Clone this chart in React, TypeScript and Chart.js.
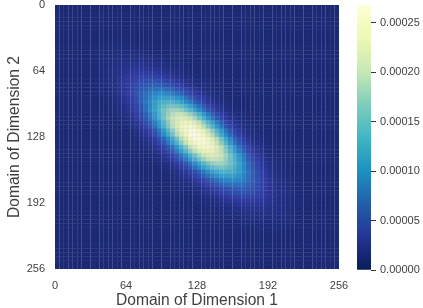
import React, { useEffect, useRef } from "react";
import { Chart, registerables } from "chart.js";

Chart.register(...registerables);

const FONT = "'Liberation Sans', Arial, sans-serif";
const TEXT = "#3f3f3f";

const axisTicks = [0, 64, 128, 192, 256];
const xTitle = "Domain of Dimension 1";
const yTitle = "Domain of Dimension 2";
const colorTicks = [0, 0.00005, 0.0001, 0.00015, 0.0002, 0.00025];
const colorMax = 0.000268;
const gridCells = 64;
const domainMax = 256;
const valueUnit = 1e-6;
const paletteLowToHigh = ["#081d58", "#253494", "#225ea8", "#1d91c0", "#41b6c4", "#7fcdbb", "#c7e9b4", "#edf8b1", "#ffffd9"];
const seamTint = [125, 110, 255];

const firstRow = 9;
const rowStarts = [11, 10, 9, 9, 8, 8, 8, 8, 8, 9, 9, 10, 10, 11, 11, 12, 12, 13, 13, 14, 14, 15, 16, 17, 17, 18, 19, 20, 21, 22, 23, 24, 25, 26, 27, 28, 29, 30, 31, 33, 34, 36, 38, 40, 42, 45];
const rowValues = [
  [2, 3, 3, 3, 3, 3, 3, 2],
  [2, 3, 3, 4, 4, 4, 4, 4, 4, 3, 3, 2],
  [2, 3, 4, 4, 5, 6, 6, 6, 6, 6, 5, 4, 4, 3, 2],
  [2, 3, 4, 5, 6, 7, 8, 9, 9, 9, 8, 7, 6, 5, 4, 3, 2],
  [2, 3, 4, 6, 7, 9, 10, 11, 12, 13, 13, 12, 11, 10, 9, 7, 6, 4, 3, 2],
  [2, 3, 4, 5, 7, 9, 11, 13, 15, 16, 17, 17, 16, 15, 13, 11, 9, 7, 5, 4, 3, 2],
  [2, 3, 5, 7, 9, 12, 14, 17, 20, 22, 24, 24, 24, 22, 20, 17, 14, 12, 9, 7, 5, 3, 2],
  [2, 3, 4, 6, 8, 11, 15, 19, 22, 26, 29, 30, 31, 30, 29, 26, 22, 19, 15, 11, 8, 6, 4, 3, 2],
  [2, 3, 4, 7, 9, 13, 17, 22, 27, 32, 36, 39, 41, 41, 39, 36, 32, 27, 22, 17, 13, 9, 7, 4, 3, 2],
  [2, 4, 6, 8, 12, 17, 22, 29, 35, 41, 47, 51, 53, 53, 51, 47, 41, 35, 29, 22, 17, 12, 8, 6, 4, 2],
  [2, 4, 6, 9, 13, 18, 24, 32, 40, 48, 55, 61, 65, 66, 65, 61, 55, 48, 40, 32, 24, 18, 13, 9, 6, 4, 2],
  [3, 4, 7, 11, 16, 22, 30, 39, 49, 59, 68, 76, 80, 82, 80, 76, 68, 59, 49, 39, 30, 22, 16, 11, 7, 4, 3],
  [2, 4, 7, 11, 16, 23, 32, 42, 54, 66, 78, 88, 96, 100, 100, 96, 88, 78, 66, 54, 42, 32, 23, 16, 11, 7, 4, 2],
  [3, 5, 8, 13, 19, 28, 38, 51, 65, 79, 94, 106, 115, 119, 119, 115, 106, 94, 79, 65, 51, 38, 28, 19, 13, 8, 5, 3],
  [3, 5, 8, 12, 18, 27, 38, 52, 68, 85, 102, 117, 130, 138, 141, 138, 130, 117, 102, 85, 68, 52, 38, 27, 18, 12, 8, 5, 3],
  [3, 5, 9, 14, 21, 31, 44, 60, 78, 97, 117, 135, 149, 159, 162, 159, 149, 135, 117, 97, 78, 60, 44, 31, 21, 14, 9, 5, 3],
  [3, 5, 8, 13, 20, 29, 42, 59, 78, 100, 122, 144, 162, 176, 183, 183, 176, 162, 144, 122, 100, 78, 59, 42, 29, 20, 13, 8, 5, 3],
  [3, 5, 9, 14, 22, 33, 47, 65, 87, 111, 136, 160, 181, 196, 204, 204, 196, 181, 160, 136, 111, 87, 65, 47, 33, 22, 14, 9, 5, 3],
  [2, 4, 7, 12, 19, 29, 43, 61, 83, 108, 135, 162, 187, 207, 220, 224, 220, 207, 187, 162, 135, 108, 83, 61, 43, 29, 19, 12, 7, 4, 2],
  [2, 4, 8, 13, 20, 31, 46, 65, 89, 115, 144, 173, 200, 221, 235, 240, 235, 221, 200, 173, 144, 115, 89, 65, 46, 31, 20, 13, 8, 4, 2],
  [2, 4, 6, 11, 17, 27, 41, 58, 81, 108, 137, 168, 198, 224, 243, 253, 253, 243, 224, 198, 168, 137, 108, 81, 58, 41, 27, 17, 11, 6, 4, 2],
  [2, 4, 6, 11, 18, 28, 42, 60, 84, 112, 142, 174, 205, 232, 251, 262, 262, 251, 232, 205, 174, 142, 112, 84, 60, 42, 28, 18, 11, 6, 4, 2],
  [3, 5, 9, 14, 23, 35, 52, 73, 99, 128, 160, 193, 222, 246, 262, 267, 262, 246, 222, 193, 160, 128, 99, 73, 52, 35, 23, 14, 9, 5, 3],
  [3, 5, 9, 14, 23, 35, 52, 73, 99, 128, 160, 193, 222, 246, 262, 267, 262, 246, 222, 193, 160, 128, 99, 73, 52, 35, 23, 14, 9, 5, 3],
  [2, 4, 6, 11, 18, 28, 42, 60, 84, 112, 142, 174, 205, 232, 251, 262, 262, 251, 232, 205, 174, 142, 112, 84, 60, 42, 28, 18, 11, 6, 4, 2],
  [2, 4, 6, 11, 17, 27, 41, 58, 81, 108, 137, 168, 198, 224, 243, 253, 253, 243, 224, 198, 168, 137, 108, 81, 58, 41, 27, 17, 11, 6, 4, 2],
  [2, 4, 8, 13, 20, 31, 46, 65, 89, 115, 144, 173, 200, 221, 235, 240, 235, 221, 200, 173, 144, 115, 89, 65, 46, 31, 20, 13, 8, 4, 2],
  [2, 4, 7, 12, 19, 29, 43, 61, 83, 108, 135, 162, 187, 207, 220, 224, 220, 207, 187, 162, 135, 108, 83, 61, 43, 29, 19, 12, 7, 4, 2],
  [3, 5, 9, 14, 22, 33, 47, 65, 87, 111, 136, 160, 181, 196, 204, 204, 196, 181, 160, 136, 111, 87, 65, 47, 33, 22, 14, 9, 5, 3],
  [3, 5, 8, 13, 20, 29, 42, 59, 78, 100, 122, 144, 162, 176, 183, 183, 176, 162, 144, 122, 100, 78, 59, 42, 29, 20, 13, 8, 5, 3],
  [3, 5, 9, 14, 21, 31, 44, 60, 78, 97, 117, 135, 149, 159, 162, 159, 149, 135, 117, 97, 78, 60, 44, 31, 21, 14, 9, 5, 3],
  [3, 5, 8, 12, 18, 27, 38, 52, 68, 85, 102, 117, 130, 138, 141, 138, 130, 117, 102, 85, 68, 52, 38, 27, 18, 12, 8, 5, 3],
  [3, 5, 8, 13, 19, 28, 38, 51, 65, 79, 94, 106, 115, 119, 119, 115, 106, 94, 79, 65, 51, 38, 28, 19, 13, 8, 5, 3],
  [2, 4, 7, 11, 16, 23, 32, 42, 54, 66, 78, 88, 96, 100, 100, 96, 88, 78, 66, 54, 42, 32, 23, 16, 11, 7, 4, 2],
  [3, 4, 7, 11, 16, 22, 30, 39, 49, 59, 68, 76, 80, 82, 80, 76, 68, 59, 49, 39, 30, 22, 16, 11, 7, 4, 3],
  [2, 4, 6, 9, 13, 18, 24, 32, 40, 48, 55, 61, 65, 66, 65, 61, 55, 48, 40, 32, 24, 18, 13, 9, 6, 4, 2],
  [2, 4, 6, 8, 12, 17, 22, 29, 35, 41, 47, 51, 53, 53, 51, 47, 41, 35, 29, 22, 17, 12, 8, 6, 4, 2],
  [2, 3, 4, 7, 9, 13, 17, 22, 27, 32, 36, 39, 41, 41, 39, 36, 32, 27, 22, 17, 13, 9, 7, 4, 3, 2],
  [2, 3, 4, 6, 8, 11, 15, 19, 22, 26, 29, 30, 31, 30, 29, 26, 22, 19, 15, 11, 8, 6, 4, 3, 2],
  [2, 3, 5, 7, 9, 12, 14, 17, 20, 22, 24, 24, 24, 22, 20, 17, 14, 12, 9, 7, 5, 3, 2],
  [2, 3, 4, 5, 7, 9, 11, 13, 15, 16, 17, 17, 16, 15, 13, 11, 9, 7, 5, 4, 3, 2],
  [2, 3, 4, 6, 7, 9, 10, 11, 12, 13, 13, 12, 11, 10, 9, 7, 6, 4, 3, 2],
  [2, 3, 4, 5, 6, 7, 8, 9, 9, 9, 8, 7, 6, 5, 4, 3, 2],
  [2, 3, 4, 4, 5, 6, 6, 6, 6, 6, 5, 4, 4, 3, 2],
  [2, 3, 3, 4, 4, 4, 4, 4, 4, 3, 3, 2],
  [2, 3, 3, 3, 3, 3, 3, 2],
];

function hexRgb(h: string) {
  return [1, 3, 5].map((p) => parseInt(h.slice(p, p + 2), 16));
}

function colorFor(value: number) {
  const frac = Math.min(1, value / colorMax);
  const t = frac * (paletteLowToHigh.length - 1);
  const i = Math.min(paletteLowToHigh.length - 2, Math.floor(t));
  const a = hexRgb(paletteLowToHigh[i]);
  const b = hexRgb(paletteLowToHigh[i + 1]);
  const f = t - i;
  const tint = 0.15 * (1 - frac * 0.85);
  const c = a.map((v, k) => Math.round((v + (b[k] - v) * f) * (1 - tint) + seamTint[k] * tint));
  return `rgb(${c[0]},${c[1]},${c[2]})`;
}

function buildCells() {
  const points: { x: number; y: number }[] = [];
  const colors: string[] = [];
  const size = domainMax / gridCells;
  for (let j = 0; j < gridCells; j++) {
    const idx = j - firstRow;
    const row = rowValues[idx] || [];
    const start = rowStarts[idx] ?? 0;
    for (let i = 0; i < gridCells; i++) {
      const raw = row[i - start] ?? 0;
      points.push({ x: (i + 0.5) * size, y: (j + 0.5) * size });
      colors.push(colorFor(raw * valueUnit));
    }
  }
  return { points, colors };
}

function noPadding(s: any) {
  s.paddingTop = 0;
  s.paddingBottom = 0;
  s.paddingLeft = 0;
  s.paddingRight = 0;
}

export default function App() {
  const mainRef = useRef<HTMLCanvasElement>(null);
  const barRef = useRef<HTMLCanvasElement>(null);

  useEffect(() => {
    document.body.style.margin = "0";
    document.body.style.background = "#fff";
    const { points, colors } = buildCells();

    const main = new Chart(mainRef.current!, {
      type: "scatter",
      data: {
        datasets: [
          {
            data: points,
            pointStyle: "rect",
            pointRadius: 3.2,
            pointHoverRadius: 3.2,
            pointBorderWidth: 0.5,
            pointBorderColor: "rgba(120,110,240,0.12)",
            pointBackgroundColor: colors,
          } as any,
        ],
      },
      options: {
        animation: false,
        responsive: false,
        events: [],
        layout: { padding: { left: 0, right: 84, top: 5, bottom: 0 } },
        plugins: { legend: { display: false }, tooltip: { enabled: false } },
        scales: {
          x: {
            type: "linear",
            min: 0,
            max: domainMax,
            afterBuildTicks: (s: any) => {
              s.ticks = axisTicks.map((value) => ({ value }));
            },
            afterFit: (s: any) => {
              s.height = 39;
              noPadding(s);
            },
            grid: { display: false },
            border: { display: false },
            ticks: { color: TEXT, font: { family: FONT, size: 11 }, padding: 2, maxRotation: 0, autoSkip: false },
            title: { display: true, text: xTitle, color: TEXT, font: { family: FONT, size: 15.6, lineHeight: 1 }, padding: { top: 0, bottom: 0 } },
          },
          y: {
            type: "linear",
            reverse: true,
            min: 0,
            max: domainMax,
            afterBuildTicks: (s: any) => {
              s.ticks = axisTicks.map((value) => ({ value }));
            },
            afterFit: (s: any) => {
              s.width = 55;
              noPadding(s);
            },
            grid: { display: false },
            border: { display: false },
            ticks: { color: TEXT, font: { family: FONT, size: 11 }, padding: 2, autoSkip: false },
            title: { display: true, text: yTitle, color: TEXT, font: { family: FONT, size: 15.6, lineHeight: 1 }, padding: { top: 7, bottom: 0 } },
          },
        },
      },
    });

    const bar = new Chart(barRef.current!, {
      type: "bar",
      data: {
        labels: ["scale"],
        datasets: [
          {
            data: [[0, colorMax]],
            barPercentage: 1,
            categoryPercentage: 1,
            backgroundColor: (ctx: any) => {
              const area = ctx.chart.chartArea;
              if (!area) return paletteLowToHigh[0];
              const g = ctx.chart.ctx.createLinearGradient(0, area.bottom, 0, area.top);
              paletteLowToHigh.forEach((c, i) => g.addColorStop(i / (paletteLowToHigh.length - 1), c));
              return g;
            },
          } as any,
        ],
      },
      options: {
        animation: false,
        responsive: false,
        events: [],
        layout: { padding: { left: 7, right: 0, top: 5, bottom: 38 } },
        plugins: { legend: { display: false }, tooltip: { enabled: false } },
        scales: {
          x: { display: false },
          y: {
            position: "right",
            min: 0,
            max: colorMax,
            afterBuildTicks: (s: any) => {
              s.ticks = colorTicks.map((value) => ({ value }));
            },
            afterFit: (s: any) => {
              s.width = 52;
              noPadding(s);
            },
            border: { display: false },
            grid: { drawOnChartArea: false, color: "#333", tickLength: 5, tickWidth: 1 },
            ticks: {
              color: TEXT,
              font: { family: FONT, size: 11 },
              padding: 4,
              autoSkip: false,
              callback: (v: any) => Number(v).toFixed(5),
            },
          },
        },
      },
    });

    return () => {
      main.destroy();
      bar.destroy();
    };
  }, []);

  return (
    <div style={{ position: "relative", width: 423, height: 308, overflow: "hidden" }}>
      <canvas ref={mainRef} width={423} height={308} style={{ position: "absolute", left: 0, top: 0 }} />
      <canvas ref={barRef} width={73} height={308} style={{ position: "absolute", left: 350, top: 0 }} />
    </div>
  );
}
